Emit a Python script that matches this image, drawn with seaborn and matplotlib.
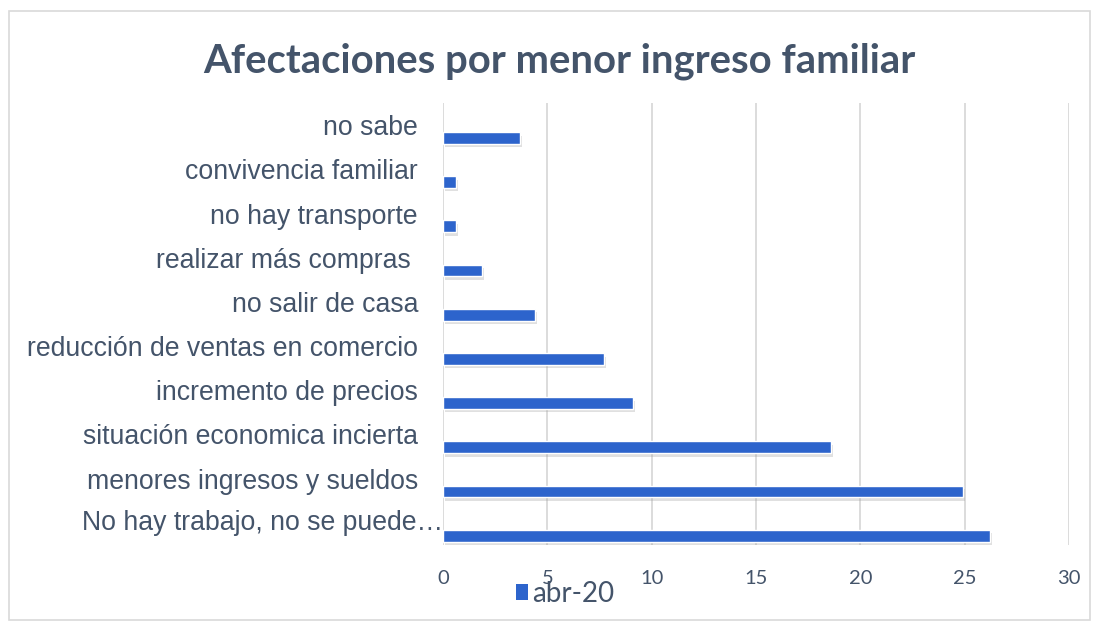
import matplotlib
matplotlib.use("Agg")
import matplotlib.pyplot as plt
import matplotlib.patheffects as pe
from matplotlib.patches import Rectangle, Patch
import seaborn as sns
import pandas as pd
import numpy as np

categories = [
    "no sabe",
    "convivencia familiar",
    "no hay transporte",
    "realizar más compras ",
    "no salir de casa",
    "reducción de ventas en comercio",
    "incremento de precios",
    "situación economica incierta",
    "menores ingresos y sueldos",
    "No hay trabajo, no se puede…",
]
values = [3.7, 0.6, 0.6, 1.85, 4.4, 7.7, 9.1, 18.6, 24.9, 26.2]
series_name = "abr-20"
xticks = [0, 5, 10, 15, 20, 25, 30]

TEXT = "#44546A"
BAR = "#2D64CC"
GRID = "#D9D9D9"

sns.set_theme(style="white")
plt.rcParams["font.family"] = ["Liberation Sans", "DejaVu Sans"]

df = pd.DataFrame({"cat": categories, "val": values, "serie": series_name})

fig = plt.figure(figsize=(10.98, 6.26), dpi=100)
ax = fig.add_axes([443 / 1098, 1 - 545 / 626, (1069 - 443) / 1098, (545 - 103) / 626])

sns.barplot(data=df, y="cat", x="val", orient="h", color=BAR, width=0.265,
            saturation=1, ax=ax, zorder=3)

for p in ax.patches:
    p.set_path_effects([pe.SimplePatchShadow(offset=(1.5, -2.5), shadow_rgbFace="#9a9a9a", alpha=0.3),
                        pe.Normal()])

n = len(categories)
off = 0.29
LBL = 19.2
ax.set_yticks(np.arange(n) - off)
labels = list(categories)
labels[-1] = ""
ax.set_yticklabels(labels, fontsize=LBL, color=TEXT)
ax.set_ylim(n - 1 + 0.5 - off, -0.5 - off)
ax.text(0.0, n - 1 - off, categories[-1], transform=ax.get_yaxis_transform(),
        ha="right", va="center", fontsize=LBL, color=TEXT)

ax.set_xlim(0, 30)
ax.set_xticks(xticks)
ax.set_xticklabels([str(t) for t in xticks], fontsize=14.5, color=TEXT, family=["Lato", "DejaVu Sans"])
ax.tick_params(axis="y", length=0, pad=18)
ax.tick_params(axis="x", length=0, pad=18)
ax.set_xlabel("")
ax.set_ylabel("")
for s in ax.spines.values():
    s.set_visible(False)
ax.grid(axis="x", color=GRID, linewidth=1.3, zorder=0)
ax.grid(axis="y", visible=False)

fig.text(559 / 1098, 1 - 61 / 626, "Afectaciones por menor ingreso familiar",
         ha="center", va="center", fontsize=28.8, fontweight="bold", color=TEXT,
         family=["Lato", "DejaVu Sans"])

handles = [Patch(facecolor=BAR, edgecolor="none", label=series_name)]
leg = fig.legend(handles=handles, loc="center", bbox_to_anchor=(565 / 1098, 1 - 594 / 626),
                 frameon=False, handlelength=0.45, handleheight=0.5,
                 handletextpad=0.15, borderpad=0, borderaxespad=0,
                 prop={"family": ["Lato", "DejaVu Sans"], "size": 20})
for t in leg.get_texts():
    t.set_color(TEXT)

fig.patches.append(Rectangle((9 / 1098, 1 - 620 / 626), (1090 - 9) / 1098, (620 - 11) / 626,
                             transform=fig.transFigure, fill=False, edgecolor=GRID, linewidth=1.2))

fig.savefig("out.png", dpi=100)
